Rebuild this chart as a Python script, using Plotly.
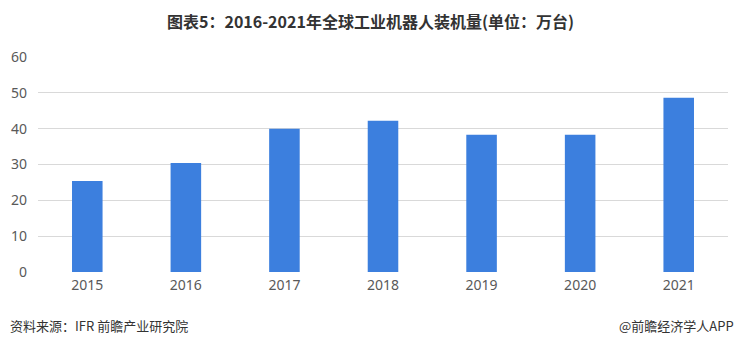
import plotly.graph_objects as go

years = ["2015", "2016", "2017", "2018", "2019", "2020", "2021"]
installs = [25.4, 30.4, 40.0, 42.2, 38.3, 38.3, 48.6]
y_ticks = [0, 10, 20, 30, 40, 50, 60]

title_text = "图表5：2016-2021年全球工业机器人装机量(单位：万台)"
source_text = "资料来源：IFR 前瞻产业研究院"
brand_text = "@前瞻经济学人APP"

H, W = 344, 740
ml, mr, mt, mb = 38, 12, 57, 72
pw, ph = W - ml - mr, H - mt - mb
def px(xp):
    return (xp - ml) / pw
def py(yp):
    return (H - mb - yp) / ph

fig = go.Figure()
fig.add_trace(go.Bar(
    x=years, y=installs,
    marker=dict(color="#3c7fde", line=dict(width=0)),
    width=0.31,
))

fig.update_layout(
    width=W, height=H,
    margin=dict(l=ml, r=mr, t=mt, b=mb),
    paper_bgcolor="white", plot_bgcolor="white",
    showlegend=False,
    font=dict(family="Noto Sans CJK SC, Noto Sans, sans-serif", color="#595959"),
    xaxis=dict(
        type="category", showgrid=False, showline=False, zeroline=False,
        ticks="", tickfont=dict(size=14, color="#595959", family="Noto Sans, sans-serif"),
        ticklabelstandoff=3,
    ),
    yaxis=dict(
        range=[0, 60], tickvals=y_ticks, showgrid=True, gridcolor="#d9d9d9",
        gridwidth=1, zeroline=False, showline=False, ticks="",
        tickfont=dict(size=14, color="#595959", family="Noto Sans, sans-serif"),
        ticklabelstandoff=10,
    ),
    annotations=[
        dict(text="<b>" + title_text + "</b>", x=px(370), y=py(21), xref="paper", yref="paper",
             xanchor="center", yanchor="middle", showarrow=False,
             font=dict(size=16, color="#333333", family="Noto Sans CJK SC, sans-serif")),
        dict(text=source_text, x=px(8), y=py(325), xref="paper", yref="paper",
             xanchor="left", yanchor="middle", showarrow=False,
             font=dict(size=13, color="#333333", family="Noto Sans CJK SC, sans-serif")),
        dict(text=brand_text, x=px(736), y=py(325), xref="paper", yref="paper",
             xanchor="right", yanchor="middle", showarrow=False,
             font=dict(size=13, color="#333333", family="Noto Sans CJK SC, sans-serif")),
    ],
)

fig.write_html("out.html")
